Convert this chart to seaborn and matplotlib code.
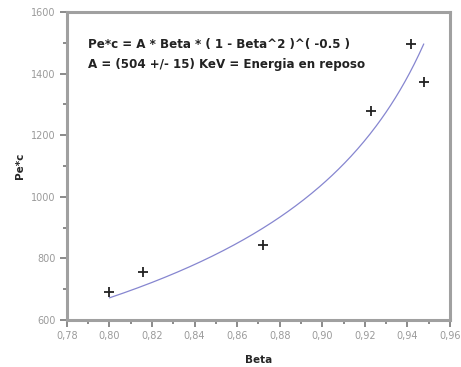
import numpy as np
import pandas as pd
import matplotlib
matplotlib.use("Agg")
import matplotlib.pyplot as plt
import seaborn as sns
from matplotlib.ticker import MultipleLocator, FuncFormatter

beta = [0.800, 0.816, 0.872, 0.923, 0.9415, 0.948]
pec = [690, 757, 843, 1280, 1497, 1372]

# fit parameter written on the chart (KeV)
A = 504
beta_min = 0.800
beta_max = 0.9477

sns.set_style("ticks")
plt.rcParams['font.family'] = ['DejaVu Sans']

df = pd.DataFrame({"Beta": beta, "Pe*c": pec})
b = np.linspace(beta_min, beta_max, 200)
fit = pd.DataFrame({"Beta": b, "Pe*c": A * b * (1 - b**2) ** (-0.5)})

fig = plt.figure(figsize=(4.61, 3.67), dpi=100)
ax = fig.add_axes([0.145, 0.128, 0.831, 0.839])

sns.lineplot(data=fit, x="Beta", y="Pe*c", ax=ax, color="#8686d0", linewidth=0.9)
sns.scatterplot(data=df, x="Beta", y="Pe*c", ax=ax, marker="+", s=60,
                color="#222222", linewidth=1.3)

ax.set_xlim(0.78, 0.96)
ax.set_ylim(600, 1600)
ax.xaxis.set_major_locator(MultipleLocator(0.02))
ax.xaxis.set_minor_locator(MultipleLocator(0.01))
ax.yaxis.set_major_locator(MultipleLocator(200))
ax.yaxis.set_minor_locator(MultipleLocator(100))
ax.xaxis.set_major_formatter(FuncFormatter(lambda v, p: f"{v:.2f}".replace(".", ",")))
ax.yaxis.set_major_formatter(FuncFormatter(lambda v, p: f"{v:.0f}"))

ax.tick_params(which="major", length=5, width=1.2, color="#777777",
               labelsize=7, labelcolor="#9a9a9a", direction="out", pad=3)
ax.tick_params(which="minor", length=3, width=1.2, color="#777777", direction="out")

for s in ax.spines.values():
    s.set_visible(True)
    s.set_color("#a0a0a0")
    s.set_linewidth(2.2)

ax.set_xlabel("Beta", fontsize=7.5, fontweight="bold", va="center")
ax.set_ylabel("Pe*c", fontsize=7.5, fontweight="bold", va="center")
ax.xaxis.set_label_coords(0.5, -0.13)
ax.yaxis.set_label_coords(-0.122, 0.5)

ax.text(0.055, 0.895, "Pe*c = A * Beta * ( 1 - Beta^2 )^( -0.5 )",
        transform=ax.transAxes, fontsize=8.6, fontweight="bold", color="#222222",
        va="center")
ax.text(0.055, 0.83, "A = (504 +/- 15) KeV = Energia en reposo",
        transform=ax.transAxes, fontsize=8.6, fontweight="bold", color="#222222",
        va="center")

fig.savefig("out.png", dpi=100)
